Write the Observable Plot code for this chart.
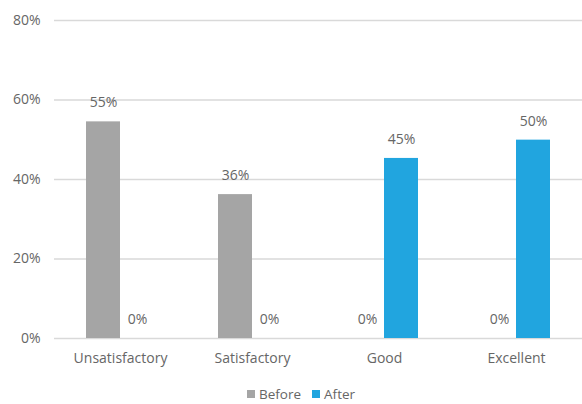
<!DOCTYPE html>
<html><head><meta charset="utf-8">
<script src="https://cdn.jsdelivr.net/npm/d3@7"></script>
<script src="https://cdn.jsdelivr.net/npm/@observablehq/plot@0.6"></script>
<style>
html,body{margin:0;padding:0;background:#fff;}
body{font-family:"Open Sans",sans-serif;width:582px;height:404px;position:relative;}
#legend{position:absolute;left:247px;top:385px;display:flex;align-items:center;font-size:13.5px;color:#666;line-height:18px;height:18px;}
#legend .item{display:flex;align-items:center;margin-right:11px;}
#legend .sw{width:8px;height:8px;margin-right:4px;}
</style></head><body><div id="chart"></div><div id="legend"></div><script>
const categories = ["Unsatisfactory","Satisfactory","Good","Excellent"];
const series = ["Before","After"];
const beforeValues = [54.5,36.2,0,0];
const afterValues = [0,0,45.3,49.9];
const yTicks = [0,20,40,60,80];
const colors = ["#a5a5a5","#21a5df"];
const data = categories.flatMap((c,i)=>[
  {category:c, series:"Before", value:beforeValues[i]},
  {category:c, series:"After", value:afterValues[i]}
]);
const chart = Plot.plot({
  width:582, height:380, marginLeft:53, marginRight:0, marginTop:20, marginBottom:42,
  style:{fontFamily:"Open Sans", fontSize:"14px", color:"#666", background:"#fff", overflow:"visible"},
  fx:{domain:categories, padding:0, label:null, axis:"bottom", tickSize:0, tickPadding:15},
  x:{domain:series, axis:null, paddingInner:0, paddingOuter:0.94},
  y:{domain:[0,80], ticks:yTicks, tickFormat:d=>d+"%", label:null, tickSize:0, tickPadding:14},
  color:{domain:series, range:colors},
  marks:[
    Plot.ruleY(yTicks,{stroke:"#d9d9d9", strokeWidth:1.5}),
    Plot.barY(data,{fx:"category", x:"series", y:"value", fill:"series"}),
    Plot.text(data,{fx:"category", x:"series", y:"value", text:d=>Math.round(d.value)+"%", dy:-19, fill:"#666", fontSize:14})
  ]
});
document.getElementById("chart").appendChild(chart);
const legend = document.getElementById("legend");
series.forEach((s,i)=>{
  const item=document.createElement("div");item.className="item";
  const sw=document.createElement("div");sw.className="sw";sw.style.background=colors[i];
  const t=document.createElement("span");t.textContent=s;
  item.appendChild(sw);item.appendChild(t);legend.appendChild(item);
});
</script></body></html>
